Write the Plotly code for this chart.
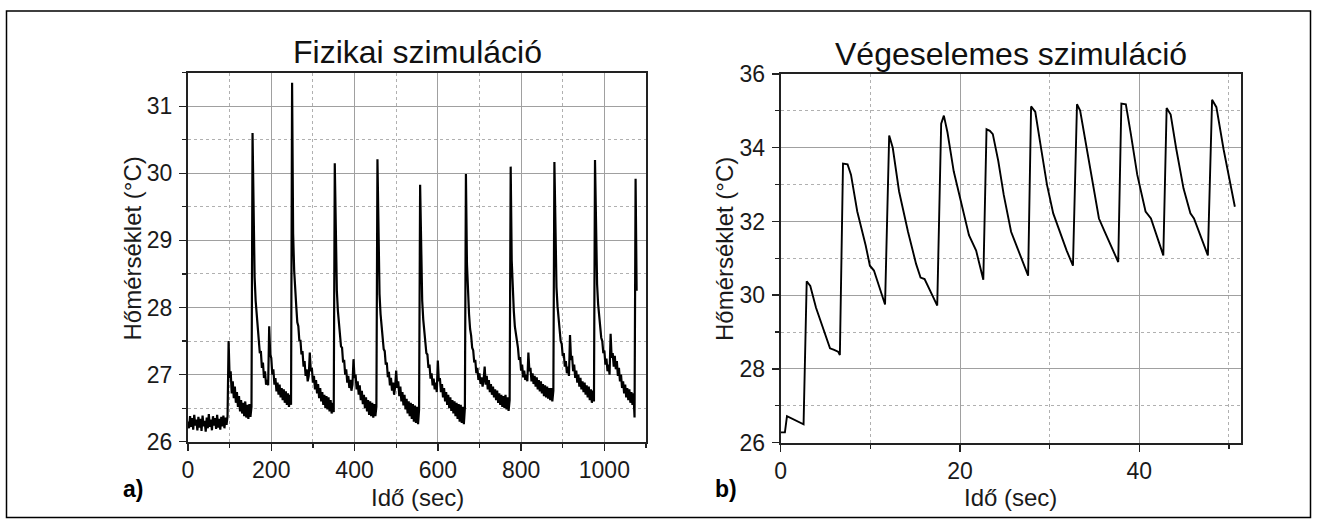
import plotly.graph_objects as go

# ---------------- Data: panel a) Fizikai szimuláció (measured, sampled every 2.5 s) ----------------
fiz_step_s = 2.5
fiz_temp = [
    # 0 .. 95 s  (baseline)
    26.30, 26.20, 26.38, 26.22, 26.35, 26.18, 26.40, 26.24, 26.33, 26.17,
    26.37, 26.21, 26.34, 26.16, 26.39, 26.23, 26.31, 26.15, 26.36, 26.20,
    26.41, 26.22, 26.33, 26.17, 26.38, 26.24, 26.35, 26.19, 26.40, 26.21,
    26.34, 26.18, 26.37, 26.23, 26.39, 26.20, 26.36, 26.25, 26.38,
    # 97.5 .. 152.5 s
    27.50, 26.95, 27.05, 26.72, 26.90, 26.65, 26.82, 26.58, 26.74, 26.52,
    26.68, 26.45, 26.62, 26.42, 26.58, 26.38, 26.60, 26.36, 26.55, 26.34,
    26.56, 26.37, 26.52,
    # 155 .. 247.5 s
    30.60, 29.00, 28.45, 28.10, 27.90, 27.62, 27.55, 27.32, 27.35, 27.10,
    27.18, 26.95, 27.05, 26.85, 26.92, 26.84, 27.72, 27.30, 27.25, 27.00,
    27.08, 26.85, 26.95, 26.75, 26.88, 26.70, 26.85, 26.66, 26.80, 26.62,
    26.78, 26.58, 26.75, 26.55, 26.72, 26.52, 26.70, 26.55,
    # 250 .. 350 s
    31.35, 29.10, 28.55, 28.20, 28.02, 27.78, 27.72, 27.50, 27.52, 27.30,
    27.35, 27.12, 27.20, 26.98, 27.08, 26.90, 26.98, 27.33, 27.05, 27.10,
    26.88, 26.98, 26.78, 26.92, 26.72, 26.86, 26.65, 26.80, 26.60, 26.74,
    26.55, 26.70, 26.50, 26.68, 26.48, 26.66, 26.45, 26.62, 26.42, 26.58,
    26.44,
    # 352.5 .. 452.5 s
    30.15, 28.75, 28.25, 27.95, 27.72, 27.62, 27.42, 27.40, 27.18, 27.22,
    27.00, 27.08, 26.88, 26.98, 26.80, 26.92, 26.76, 26.85, 27.23, 26.95,
    27.00, 26.78, 26.90, 26.70, 26.84, 26.62, 26.76, 26.56, 26.70, 26.50,
    26.66, 26.45, 26.62, 26.40, 26.60, 26.38, 26.58, 26.36, 26.56, 26.38,
    26.52,
    # 455 .. 555 s
    30.21, 28.70, 28.20, 27.90, 27.68, 27.58, 27.38, 27.35, 27.15, 27.18,
    26.96, 27.04, 26.84, 26.95, 26.76, 26.88, 26.70, 26.82, 27.06, 26.80,
    26.90, 26.68, 26.82, 26.60, 26.74, 26.54, 26.70, 26.48, 26.64, 26.42,
    26.60, 26.38, 26.58, 26.34, 26.56, 26.30, 26.54, 26.28, 26.52, 26.26,
    26.48,
    # 557.5 .. 665 s
    29.83, 28.55, 28.10, 27.82, 27.62, 27.52, 27.32, 27.30, 27.10, 27.15,
    26.94, 27.02, 26.84, 26.94, 26.78, 26.88, 26.74, 27.21, 26.90, 26.95,
    26.74, 26.86, 26.66, 26.80, 26.60, 26.74, 26.55, 26.70, 26.50, 26.66,
    26.46, 26.62, 26.42, 26.60, 26.38, 26.58, 26.34, 26.56, 26.30, 26.55,
    26.28, 26.52, 26.26, 26.50,
    # 667.5 .. 772.5 s
    29.99, 28.65, 28.18, 27.90, 27.68, 27.58, 27.40, 27.36, 27.18, 27.22,
    27.02, 27.10, 26.92, 27.02, 26.86, 26.96, 26.82, 26.92, 27.12, 26.85,
    26.98, 26.78, 26.92, 26.74, 26.86, 26.70, 26.82, 26.66, 26.78, 26.62,
    26.76, 26.58, 26.72, 26.55, 26.70, 26.52, 26.68, 26.50, 26.70, 26.48,
    26.66, 26.46, 26.62,
    # 775 .. 877.5 s
    30.10, 28.70, 28.22, 27.95, 27.72, 27.62, 27.45, 27.40, 27.22, 27.26,
    27.06, 27.15, 26.96, 27.06, 26.92, 27.00, 26.90, 27.33, 27.05, 27.10,
    26.90, 27.02, 26.86, 26.98, 26.82, 26.96, 26.78, 26.92, 26.75, 26.90,
    26.72, 26.86, 26.68, 26.84, 26.66, 26.82, 26.64, 26.80, 26.62, 26.80,
    26.60, 26.76,
    # 880 .. 975 s
    30.17, 28.80, 28.30, 28.02, 27.80, 27.68, 27.50, 27.46, 27.28, 27.32,
    27.12, 27.20, 27.02, 27.12, 26.98, 27.59, 27.22, 27.28, 27.05, 27.15,
    26.95, 27.06, 26.88, 27.00, 26.82, 26.95, 26.78, 26.90, 26.74, 26.88,
    26.70, 26.84, 26.66, 26.82, 26.62, 26.78, 26.58, 26.76, 26.60,
    # 977.5 .. 1077.5 s
    30.20, 28.85, 28.35, 28.05, 27.85, 27.72, 27.55, 27.50, 27.32, 27.36,
    27.15, 27.24, 27.05, 27.15, 27.00, 27.61, 27.25, 27.32, 27.12, 27.28,
    27.08, 27.20, 26.98, 27.10, 26.90, 27.00, 26.80, 26.90, 26.72, 26.85,
    26.66, 26.80, 26.62, 26.78, 26.58, 26.74, 26.55, 26.72, 26.36,
    29.92, 28.25,
]
fiz_time = [i * fiz_step_s for i in range(len(fiz_temp))]

# ---------------- Data: panel b) Végeselemes szimuláció ----------------
veg_time = [0.0, 0.47, 0.7, 2.55, 2.9, 3.0, 3.3, 3.94, 4.8, 5.5, 5.96, 6.4, 6.6,
            6.95, 7.46, 7.84, 8.54, 9.48, 9.95, 10.4, 11.64,
            12.1, 12.5, 13.2, 14.2, 15.1, 15.6, 16.05, 17.46,
            17.9, 18.2, 18.6, 19.3, 20.2, 21.0, 21.8, 22.6,
            22.96, 23.33, 23.66, 24.27, 24.88, 25.7, 26.15, 27.6,
            27.93, 28.4, 28.97, 29.7, 30.4, 31.1, 31.9, 32.6,
            33.05, 33.4, 33.99, 34.7, 35.5, 36.15, 37.65,
            38.0, 38.5, 39.06, 39.77, 40.7, 41.3, 42.68,
            43.05, 43.5, 44.1, 44.93, 45.7, 46.1, 47.65,
            48.12, 48.6, 49.4, 50.1, 50.66]
veg_temp = [26.28, 26.28, 26.72, 26.5, 30.38, 30.35, 30.25, 29.66, 29.02, 28.56, 28.52, 28.47, 28.38,
            33.57, 33.55, 33.27, 32.27, 31.35, 30.8, 30.67, 29.75,
            34.33, 34.0, 32.82, 31.72, 30.85, 30.48, 30.44, 29.72,
            34.65, 34.87, 34.42, 33.36, 32.45, 31.63, 31.21, 30.42,
            34.5, 34.46, 34.37, 33.64, 32.72, 31.72, 31.44, 30.53,
            35.12, 34.97, 34.1, 33.0, 32.22, 31.72, 31.21, 30.8,
            35.18, 35.01, 34.19, 33.09, 32.08, 31.72, 30.9,
            35.2, 35.18, 34.37, 33.27, 32.27, 32.08, 31.08,
            35.08, 34.9, 34.0, 32.9, 32.22, 32.08, 31.08,
            35.3, 35.1, 33.96, 33.09, 32.4]

# ---------------- Text ----------------
title_a = "Fizikai szimuláció"
title_b = "Végeselemes szimuláció"
x_title = "Idő (sec)"
y_title = "Hőmérséklet (°C)"

W, H = 1318, 528
FONT = "Liberation Sans, Arial, Helvetica, sans-serif"


def px(x):
    return x / W


def py(y):
    return 1 - y / H


fig = go.Figure()
fig.add_trace(go.Scatter(x=fiz_time, y=fiz_temp, mode="lines",
                         line=dict(color="black", width=2.2),
                         xaxis="x", yaxis="y", showlegend=False, hoverinfo="skip"))
fig.add_trace(go.Scatter(x=veg_time, y=veg_temp, mode="lines",
                         line=dict(color="black", width=1.9),
                         xaxis="x2", yaxis="y2", showlegend=False, hoverinfo="skip"))

common = dict(showline=True, linecolor="#222", linewidth=2, mirror=True,
              ticks="outside", ticklen=7, tickwidth=1.5, tickcolor="#222",
              showgrid=True, gridcolor="#a0a0a0", gridwidth=1, zeroline=False,
              automargin=False,
              tickfont=dict(family=FONT, size=23, color="#1a1a1a"))


def minor(d):
    return dict(dtick=d, showgrid=True, gridcolor="#b0b0b0", griddash="dot",
                gridwidth=1, ticks="outside", ticklen=4, tickcolor="#222", tickwidth=1.2)


fig.update_layout(
    width=W, height=H, autosize=False,
    margin=dict(l=0, r=0, t=0, b=0, pad=0),
    paper_bgcolor="white", plot_bgcolor="white",
    xaxis=dict(domain=[px(188), px(646)], range=[0, 1100], tick0=0, dtick=200,
               minor=minor(100), anchor="y", **common),
    yaxis=dict(domain=[py(441.7), py(72.7)], range=[26, 31.5], tick0=26, dtick=1,
               minor=minor(0.5), anchor="x", ticklabelstandoff=2, **common),
    xaxis2=dict(domain=[px(780.7), px(1240.6)], range=[0, 51.3], tick0=0, dtick=20,
                minor=minor(10), anchor="y2", **common),
    yaxis2=dict(domain=[py(442.7), py(74)], range=[26, 36], tick0=26, dtick=2,
                minor=minor(1), anchor="x2", ticklabelstandoff=2, **common),
)

ann = []
# titles
ann.append(dict(text=title_a, x=px(417), y=py(52.5), xref="paper", yref="paper",
                xanchor="center", yanchor="middle", showarrow=False,
                font=dict(family=FONT, size=32, color="#111")))
ann.append(dict(text=title_b, x=px(1010.6), y=py(54), xref="paper", yref="paper",
                xanchor="center", yanchor="middle", showarrow=False,
                font=dict(family=FONT, size=32, color="#111")))
# x axis titles
for cx in (417, 1010.6):
    ann.append(dict(text=x_title, x=px(cx), y=py(497), xref="paper", yref="paper",
                    xanchor="center", yanchor="middle", showarrow=False,
                    font=dict(family=FONT, size=24, color="#1a1a1a")))
# y axis titles
for cx in (131.5, 724):
    ann.append(dict(text=y_title, x=px(cx), y=py(249), xref="paper", yref="paper",
                    xanchor="center", yanchor="middle", showarrow=False, textangle=-90,
                    font=dict(family=FONT, size=24, color="#1a1a1a")))
# panel labels
ann.append(dict(text="<b>a)</b>", x=px(132.5), y=py(489), xref="paper", yref="paper",
                xanchor="center", yanchor="middle", showarrow=False,
                font=dict(family=FONT, size=23, color="black")))
ann.append(dict(text="<b>b)</b>", x=px(726), y=py(489), xref="paper", yref="paper",
                xanchor="center", yanchor="middle", showarrow=False,
                font=dict(family=FONT, size=23, color="black")))
fig.update_layout(annotations=ann)

# outer frame
fig.add_shape(type="rect", xref="paper", yref="paper",
              x0=px(6.5), x1=px(1310.5), y0=py(517.5), y1=py(11),
              line=dict(color="black", width=1.5), fillcolor="rgba(0,0,0,0)")

fig.write_html(
    "out.html",
    config={"displayModeBar": False, "staticPlot": True},
    post_script="document.body.style.margin='0';document.body.style.padding='0';"
                "document.body.style.overflow='hidden';"
                "document.documentElement.style.overflow='hidden';",
)
